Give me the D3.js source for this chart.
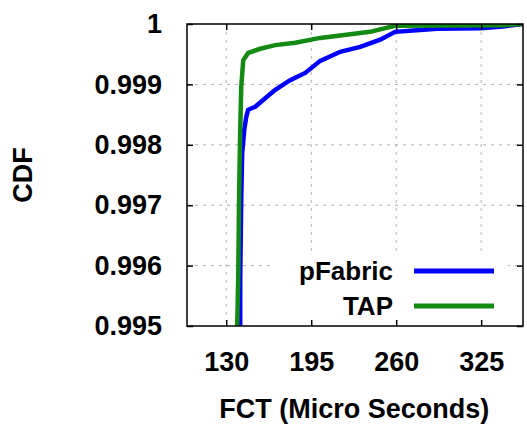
<!DOCTYPE html>
<html>
<head>
<meta charset="utf-8">
<script src="https://cdn.jsdelivr.net/npm/d3@7"></script>
<style>
    body { margin: 0; background: #fff; }
    text { font-family: "Liberation Sans", Arial, sans-serif; font-weight: bold; fill: #000; }
    .grid line { stroke: #b0b0b0; stroke-width: 1; stroke-dasharray: 3,5; }
</style>
</head>
<body>
<div id="chart"></div>
<script>
// tick labels
let xTicks = [130, 195, 260, 325];
let yTicks = [0.995, 0.996, 0.997, 0.998, 0.999, 1];

// series names
let seriesNames = ["pFabric", "TAP"];

// pFabric curve
let pfabricFct = [140.7, 140.7, 141.5, 142.2, 143.8, 145.3, 146.8, 152.2, 159.8, 167.5, 178.9, 190.4, 201.9, 217.2, 232.5, 247.8, 259.2, 278.3, 291.3, 324.2, 341.8, 357];
let pfabricCdf = [0.995, 0.99576, 0.99712, 0.99786, 0.99825, 0.99846, 0.99858, 0.99863, 0.99877, 0.99891, 0.99907, 0.99919, 0.99939, 0.99954, 0.99962, 0.99974, 0.99987, 0.9999, 0.99992, 0.99993, 0.99996, 1];

// TAP curve
let tapFct = [138.4, 139.2, 139.9, 140.7, 141.5, 143, 146.8, 156, 167.5, 182.8, 201.9, 224.8, 240, 259, 339.5, 357];
let tapCdf = [0.995, 0.99581, 0.99724, 0.99825, 0.99896, 0.9994, 0.99952, 0.99959, 0.99965, 0.99969, 0.99977, 0.99983, 0.99987, 0.99997, 0.99998, 1];

let colors = ["#0000ff", "#138a13"];

// layout
var margin = {top: 24, right: 4, bottom: 102, left: 187};
let width = 527 - margin.left - margin.right;
let height = 428 - margin.top - margin.bottom;

let svg = d3.select("#chart")
    .append("svg")
    .attr("width", 527)
    .attr("height", 428);

let g = svg.append("g")
    .attr("transform", "translate(" + margin.left + "," + margin.top + ")");

let x = d3.scaleLinear().domain([100, 357]).range([0, width]);
let y = d3.scaleLinear().domain([0.995, 1]).range([height, 0]);

g.append("clipPath")
    .attr("id", "clip")
    .append("rect")
    .attr("width", width)
    .attr("height", height);

// grid
g.append("g")
    .classed("grid", true)
    .selectAll("line.v")
    .data(xTicks)
    .join("line")
    .attr("x1", d => x(d)).attr("x2", d => x(d))
    .attr("y1", 0).attr("y2", height);

g.append("g")
    .classed("grid", true)
    .selectAll("line.h")
    .data(yTicks.slice(1, -1))
    .join("line")
    .attr("x1", 0).attr("x2", width)
    .attr("y1", d => y(d)).attr("y2", d => y(d));

// curves
let line = d3.line()
    .x(d => x(d[0]))
    .y(d => y(d[1]));

let series = [
    d3.zip(pfabricFct, pfabricCdf),
    d3.zip(tapFct, tapCdf)
];

series.forEach(function(s, i) {
    g.append("path")
        .datum(s)
        .attr("clip-path", "url(#clip)")
        .attr("fill", "none")
        .attr("stroke", colors[i])
        .attr("stroke-width", 4.5)
        .attr("d", line);
});

// legend box hides grid behind it
g.append("rect")
    .attr("x", 270 - margin.left)
    .attr("y", 255 - margin.top)
    .attr("width", 238)
    .attr("height", height - (255 - margin.top))
    .attr("fill", "#fff");

seriesNames.forEach(function(name, i) {
    let ly = 271 - margin.top + i * 35;
    g.append("text")
        .attr("x", 393 - margin.left)
        .attr("y", ly)
        .attr("dy", "0.35em")
        .attr("text-anchor", "end")
        .style("font-size", "26px")
        .text(name);
    g.append("line")
        .attr("x1", 414 - margin.left).attr("x2", 494 - margin.left)
        .attr("y1", ly).attr("y2", ly)
        .attr("stroke", colors[i])
        .attr("stroke-width", 5);
});

// axes, ticks inward on all sides
let fmt = d => d === 1 ? "1" : d3.format(".3f")(d);

let xAxis = g.append("g")
    .attr("transform", "translate(0," + height + ")")
    .call(d3.axisBottom(x).tickValues(xTicks).tickSize(-6).tickPadding(26));
let xAxisTop = g.append("g")
    .call(d3.axisTop(x).tickValues(xTicks).tickSize(-6).tickFormat(""));
let yAxis = g.append("g")
    .call(d3.axisLeft(y).tickValues(yTicks).tickSize(-6).tickPadding(25).tickFormat(fmt));
let yAxisRight = g.append("g")
    .attr("transform", "translate(" + width + ",0)")
    .call(d3.axisRight(y).tickValues(yTicks).tickSize(-6).tickFormat(""));

[xAxis, xAxisTop, yAxis, yAxisRight].forEach(function(a) {
    a.select(".domain").remove();
    a.selectAll("line").attr("stroke", "#000").attr("stroke-width", 1.5);
    a.selectAll("text")
        .style("font-size", "27px")
        .style("font-family", "\"Liberation Sans\", Arial, sans-serif")
        .style("font-weight", "bold")
        .attr("fill", "#000");
});

// frame
g.append("rect")
    .attr("width", width)
    .attr("height", height)
    .attr("fill", "none")
    .attr("stroke", "#000")
    .attr("stroke-width", 1.5);

// axis titles
svg.append("text")
    .attr("x", margin.left + x(228))
    .attr("y", 418)
    .attr("text-anchor", "middle")
    .style("font-size", "27px")
    .text("FCT (Micro Seconds)");

svg.append("text")
    .attr("transform", "translate(32,175) rotate(-90)")
    .attr("text-anchor", "middle")
    .style("font-size", "27px")
    .text("CDF");
</script>
</body>
</html>
